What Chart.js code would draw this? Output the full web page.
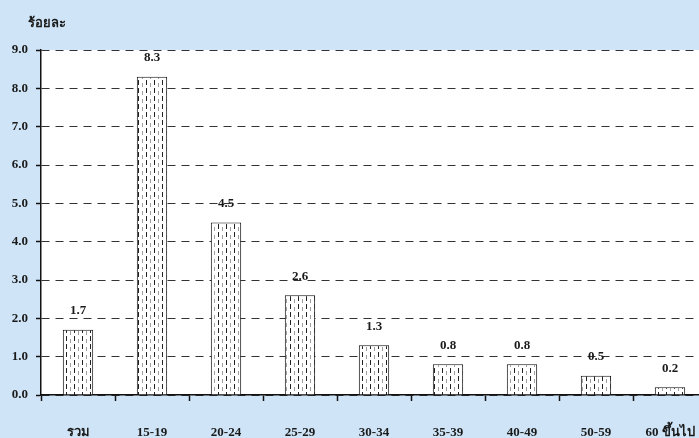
<!DOCTYPE html>
<html>
<head>
<meta charset="utf-8">
<script src="https://cdn.jsdelivr.net/npm/chart.js@4.4.0/dist/chart.umd.min.js"></script>
<style>
    html, body { margin: 0; padding: 0; background: #cfe5f7; overflow: hidden; }
    #chart { display: block; }
</style>
</head>
<body>
<canvas id="chart" width="707" height="438"></canvas>
<script>
// Data
const categories = ['รวม', '15-19', '20-24', '25-29', '30-34', '35-39', '40-49', '50-59', '60 ขึ้นไป'];
const values = [1.7, 8.3, 4.5, 2.6, 1.3, 0.8, 0.8, 0.5, 0.2];
const yTitle = 'ร้อยละ';
const yMin = 0;
const yMax = 9;
const yStep = 1;

const SERIF = '"Liberation Serif", "Times New Roman", "DejaVu Serif", serif';

/**
 * Dotted vertical hatch used to fill the bars
 */
function makeHatch() {
    const c = document.createElement('canvas');
    c.width = 8;
    c.height = 8;
    const g = c.getContext('2d');
    g.fillStyle = '#ffffff';
    g.fillRect(0, 0, 8, 8);
    g.fillStyle = '#222222';
    g.fillRect(2, 0, 1, 5);
    g.fillStyle = '#a0a0a0';
    g.fillRect(6, 3, 1, 4);
    return g.createPattern(c, 'repeat');
}

const decorPlugin = {
    id: 'decor',
    beforeDraw(chart) {
        const { ctx, chartArea } = chart;
        ctx.save();
        ctx.fillStyle = '#cfe5f7';
        ctx.fillRect(0, 0, chart.width, chart.height);
        ctx.fillStyle = '#ffffff';
        ctx.fillRect(chartArea.left, chartArea.top, chartArea.right - chartArea.left, chartArea.bottom - chartArea.top);
        ctx.restore();
    },
    afterDatasetsDraw(chart) {
        const { ctx } = chart;
        const meta = chart.getDatasetMeta(0);
        ctx.save();
        ctx.font = 'bold 13px ' + SERIF;
        ctx.fillStyle = '#1a1a1a';
        ctx.textAlign = 'center';
        ctx.textBaseline = 'middle';
        meta.data.forEach((bar, i) => {
            ctx.fillText(values[i].toFixed(1), bar.x, bar.y - 19);
        });
        ctx.restore();
    },
    afterDraw(chart) {
        const { ctx } = chart;
        ctx.save();
        ctx.font = 'bold 13px ' + SERIF;
        ctx.fillStyle = '#1a1a1a';
        ctx.textAlign = 'left';
        ctx.textBaseline = 'middle';
        ctx.fillText(yTitle, 28, 24);
        ctx.restore();
    }
};

new Chart(document.getElementById('chart'), {
    type: 'bar',
    data: {
        labels: categories,
        datasets: [{
            data: values,
            backgroundColor: makeHatch(),
            borderColor: '#111111',
            borderWidth: 1,
            categoryPercentage: 1,
            barPercentage: 0.41
        }]
    },
    options: {
        responsive: false,
        animation: false,
        layout: {
            padding: { top: 50, right: 0, left: 1, bottom: 0 }
        },
        plugins: {
            legend: { display: false },
            tooltip: { enabled: false }
        },
        scales: {
            x: {
                grid: {
                    offset: true,
                    drawOnChartArea: false,
                    drawTicks: true,
                    tickLength: 6,
                    tickColor: '#111111',
                    tickWidth: 1.5
                },
                border: { color: '#111111', width: 1.5 },
                ticks: {
                    color: '#1a1a1a',
                    padding: 24,
                    maxRotation: 0,
                    autoSkip: false,
                    font: { family: SERIF, size: 13, weight: 'bold' }
                },
                afterFit(scale) {
                    scale.height = 43;
                    scale.paddingLeft = 0;
                    scale.paddingRight = 0;
                }
            },
            y: {
                min: yMin,
                max: yMax,
                grid: {
                    color: '#333333',
                    lineWidth: 1,
                    tickLength: 5,
                    tickColor: '#111111',
                    tickWidth: 1.5,
                    tickBorderDash: []
                },
                border: { color: '#111111', width: 1.5, dash: [8, 6] },
                ticks: {
                    stepSize: yStep,
                    padding: 8,
                    color: '#1a1a1a',
                    font: { family: SERIF, size: 13, weight: 'bold' },
                    callback: v => Number(v).toFixed(1)
                },
                afterFit(scale) {
                    scale.width = 40;
                }
            }
        }
    },
    plugins: [decorPlugin]
});
</script>
</body>
</html>
